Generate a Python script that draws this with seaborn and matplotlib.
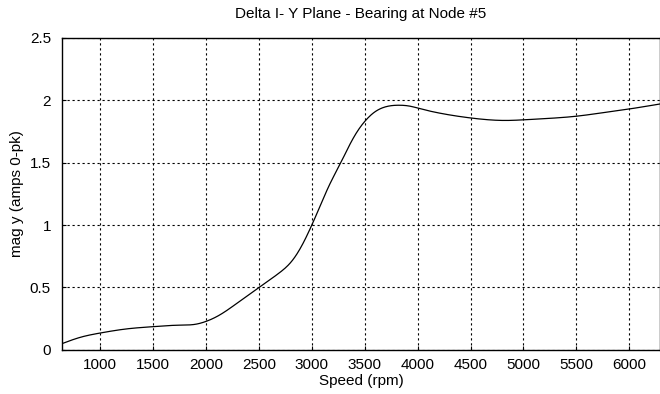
import matplotlib
matplotlib.use("Agg")
import matplotlib.pyplot as plt
import seaborn as sns
import numpy as np
import pandas as pd

# Response magnitude of the bearing at node 5, Y plane
speed_rpm = [640, 810, 1000, 1250, 1500, 1750, 1900, 2000, 2120, 2300, 2500, 2690,
             2810, 2910, 3000, 3080, 3160, 3280, 3350, 3430, 3500, 3585, 3700,
             3820, 3930, 4010, 4250, 4510, 4840, 5000, 5250, 5500, 5750, 6000, 6290]
mag_y = [0.05, 0.10, 0.135, 0.168, 0.186, 0.198, 0.205, 0.228, 0.275, 0.378, 0.50, 0.615,
         0.71, 0.842, 1.00, 1.155, 1.31, 1.51, 1.63, 1.75, 1.83, 1.90, 1.948,
         1.96, 1.952, 1.935, 1.89, 1.857, 1.838, 1.843, 1.855, 1.872, 1.90, 1.93, 1.97]

x_ticks = [1000, 1500, 2000, 2500, 3000, 3500, 4000, 4500, 5000, 5500, 6000]
y_ticks = [0, 0.5, 1, 1.5, 2, 2.5]
y_tick_labels = ["0", "0.5", "1", "1.5", "2", "2.5"]

sns.set_theme(style="white")
plt.rcParams["font.family"] = ["Liberation Sans", "DejaVu Sans"]


def natural_spline(x, y, xn):
    """Natural cubic spline through (x, y), evaluated at xn."""
    x = np.asarray(x, float)
    y = np.asarray(y, float)
    n = len(x)
    h = np.diff(x)
    A = np.zeros((n, n))
    r = np.zeros(n)
    A[0, 0] = A[-1, -1] = 1.0
    for i in range(1, n - 1):
        A[i, i - 1] = h[i - 1]
        A[i, i] = 2 * (h[i - 1] + h[i])
        A[i, i + 1] = h[i]
        r[i] = 6 * ((y[i + 1] - y[i]) / h[i] - (y[i] - y[i - 1]) / h[i - 1])
    M = np.linalg.solve(A, r)
    idx = np.clip(np.searchsorted(x, xn) - 1, 0, n - 2)
    x0, x1 = x[idx], x[idx + 1]
    hh = x1 - x0
    a = (x1 - xn) / hh
    b = (xn - x0) / hh
    return (a * y[idx] + b * y[idx + 1]
            + ((a**3 - a) * M[idx] + (b**3 - b) * M[idx + 1]) * hh**2 / 6)


xn = np.linspace(speed_rpm[0], speed_rpm[-1], 800)
curve = pd.DataFrame({"speed": xn, "mag": natural_spline(speed_rpm, mag_y, xn)})

fig = plt.figure(figsize=(6.6, 3.94), dpi=100)
ax = fig.add_axes([0.094, 0.112, 0.906, 0.792])

sns.lineplot(data=curve, x="speed", y="mag", ax=ax, color="black", linewidth=0.9)

ax.set_xlim(640, 6290)
ax.set_ylim(0, 2.5)
ax.set_xticks(x_ticks)
ax.set_xticklabels([str(t) for t in x_ticks])
ax.set_yticks(y_ticks)
ax.set_yticklabels(y_tick_labels)

ax.grid(True, color="black", linestyle=(0, (2, 2.5)), linewidth=0.8)
ax.tick_params(axis="both", direction="in", length=3, width=0.8, color="black",
               labelsize=11, labelcolor="black")
ax.tick_params(axis="x", bottom=True, pad=6)
ax.tick_params(axis="y", left=True, pad=8)

for side, sp in ax.spines.items():
    sp.set_color("black")
    sp.set_linewidth(1.0)
    sp.set_visible(True)

ax.set_title("Delta I- Y Plane - Bearing at Node #5", fontsize=11, color="black", pad=14)
ax.set_xlabel("Speed (rpm)", fontsize=11, color="black", labelpad=1)
ax.set_ylabel("mag y (amps 0-pk)", fontsize=11, color="black", labelpad=4)

fig.savefig("out.png", dpi=100, facecolor="white")
